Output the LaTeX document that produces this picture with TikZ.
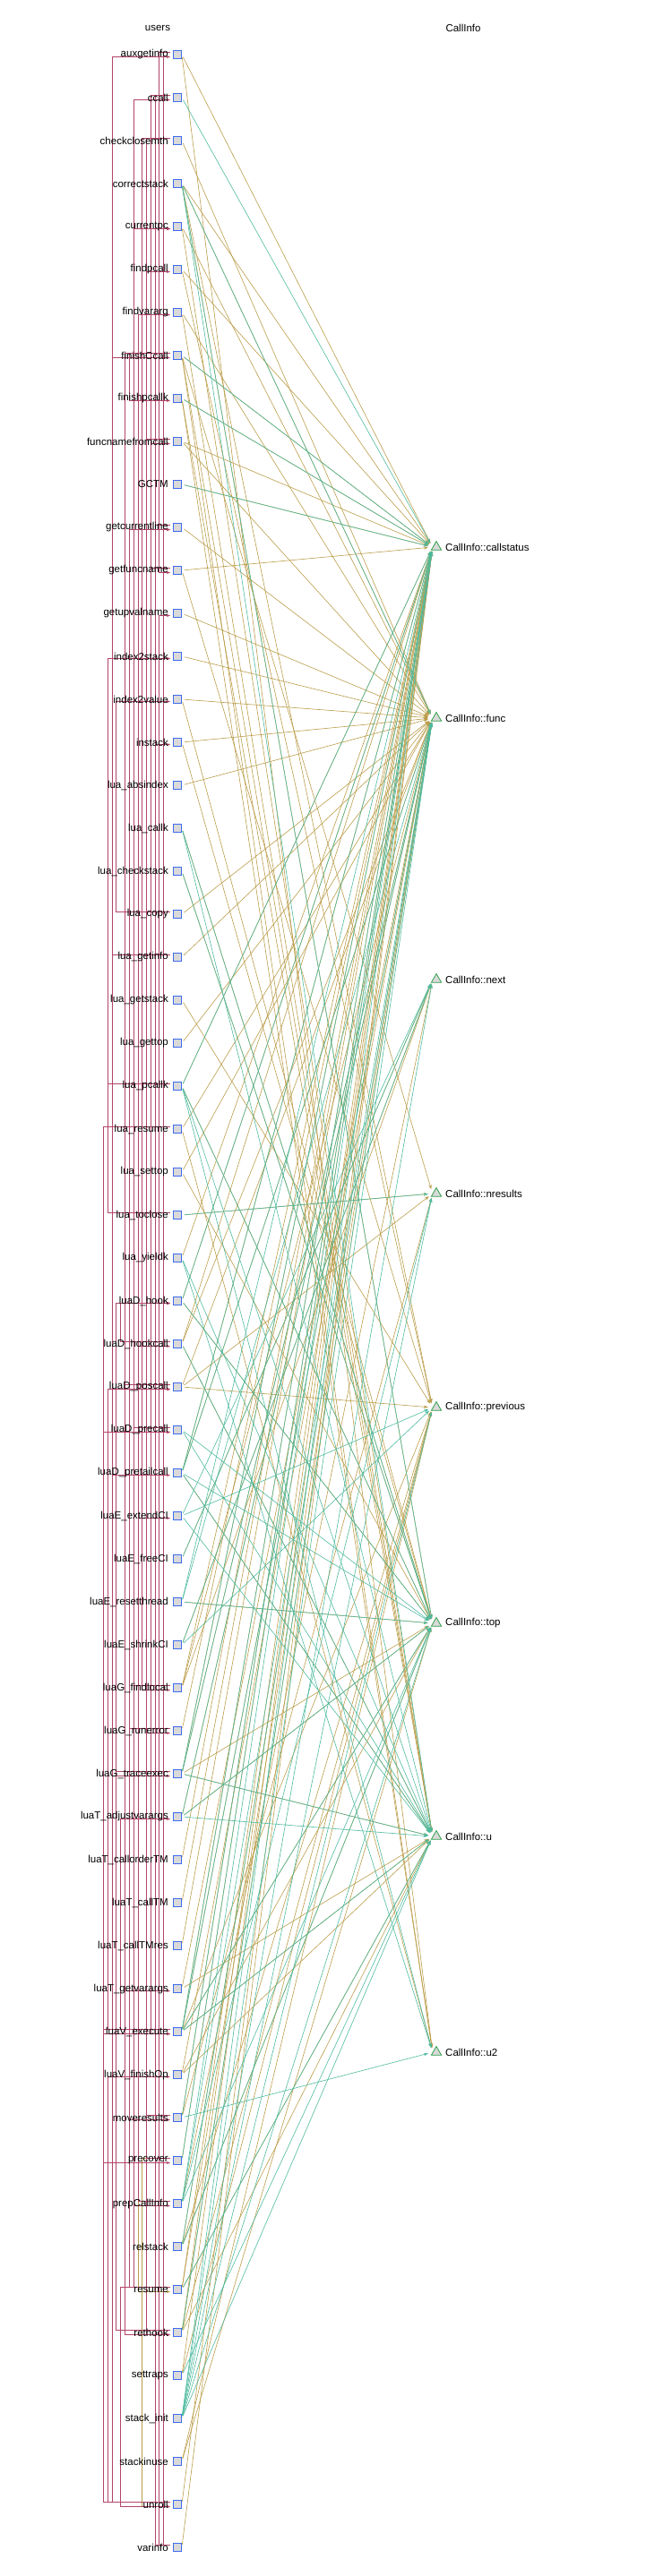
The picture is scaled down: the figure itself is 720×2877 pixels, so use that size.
\documentclass[tikz,border=0pt]{standalone}
\usepackage{fontspec}
\setmainfont{Liberation Sans}
\usetikzlibrary{arrows.meta,shapes.geometric}
\definecolor{gold}{HTML}{BA9C48}
\definecolor{tealw}{HTML}{4DBA9E}
\definecolor{callred}{HTML}{B3446A}
\definecolor{sqblue}{HTML}{3F6BF0}
\definecolor{trigreen}{HTML}{2EA04A}
\definecolor{nodefill}{HTML}{D9D9D9}
\pgfdeclarelayer{bg}
\pgfsetlayers{bg,main}
\begin{document}
\begin{tikzpicture}[x=1pt,y=-1pt, font=\fontsize{11.5}{13}\selectfont,
 usq/.style={draw=sqblue, fill=nodefill, line width=0.9pt, minimum size=9pt, inner sep=0pt},
 tri/.style={draw=trigreen, fill=nodefill, regular polygon, regular polygon sides=3, minimum size=13pt, inner sep=0pt, line width=0.8pt},
 lab/.style={anchor=east, inner sep=0pt},
 rlab/.style={anchor=west, inner sep=0pt},
 rd/.style={draw=gold, line width=0.6pt, shorten <=3pt, shorten >=5pt, -{Stealth[length=5pt,width=3.5pt]}},
 wr/.style={draw=tealw, line width=0.6pt, shorten <=3pt, shorten >=5pt, -{Stealth[length=5pt,width=3.5pt]}},
 callln/.style={draw=callred, line width=0.8pt, -{Stealth[length=4pt,width=3pt]}},
 gcallln/.style={draw=gold, line width=0.8pt, -{Stealth[length=4pt,width=3pt]}}]
\useasboundingbox (0,0) rectangle (720,2877);

\node (tu) at (176,31) {users};
\node (tc) at (517,31) {CallInfo};

\foreach \i/\t in {1/auxgetinfo,2/ccall,3/checkclosemth,4/correctstack,5/currentpc,6/findpcall,7/findvararg,8/finishCcall,9/finishpcallk,10/funcnamefromcall,11/GCTM,12/getcurrentline,13/getfuncname,14/getupvalname,15/index2stack,16/index2value,17/instack,18/lua\_absindex,19/lua\_callk,20/lua\_checkstack,21/lua\_copy,22/lua\_getinfo,23/lua\_getstack,24/lua\_gettop,25/lua\_pcallk,26/lua\_resume,27/lua\_settop,28/lua\_toclose,29/lua\_yieldk,30/luaD\_hook,31/luaD\_hookcall,32/luaD\_poscall,33/luaD\_precall,34/luaD\_pretailcall,35/luaE\_extendCI,36/luaE\_freeCI,37/luaE\_resetthread,38/luaE\_shrinkCI,39/luaG\_findlocal,40/luaG\_runerror,41/luaG\_traceexec,42/luaT\_adjustvarargs,43/luaT\_callorderTM,44/luaT\_callTM,45/luaT\_callTMres,46/luaT\_getvarargs,47/luaV\_execute,48/luaV\_finishOp,49/moveresults,50/precover,51/prepCallInfo,52/relstack,53/resume,54/rethook,55/settraps,56/stack\_init,57/stackinuse,58/unroll,59/varinfo}
{
  \node[usq] (u\i) at (198,{61+48*(\i-1)}) {};
  \node[lab] (l\i) at (188,{61+48*(\i-1)}) {\t};
}

\foreach \n/\y/\t in {cs/611/callstatus, fn/802/func, nx/1094/next, nr/1333/nresults, pv/1572/previous, tp/1813/top, uu/2051/u, uv/2292/u2}
{
  \node[tri] (\n) at (487,\y) {};
  \node[rlab] (l\n) at (497,\y) {CallInfo::\t};
}

\begin{pgfonlayer}{bg}
% reads
\foreach \s/\t in {1/cs,1/uv,3/fn,4/pv,4/tp,4/fn,4/cs,5/uu,5/fn,6/pv,6/cs,7/fn,7/uu,8/cs,8/uu,8/uv,8/nr,9/cs,9/uv,9/uu,10/cs,10/fn,11/cs,12/fn,13/cs,13/pv,14/fn,15/fn,16/fn,16/tp,17/fn,17/tp,18/fn,19/tp,20/tp,21/fn,22/fn,23/pv,24/fn,25/cs,25/tp,26/uv,26/fn,27/fn,27/tp,28/nr,29/cs,30/cs,30/tp,31/cs,31/fn,31/uu,32/nr,32/fn,32/pv,34/fn,34/cs,34/uu,36/nx,37/tp,38/nx,39/fn,39/nx,39/cs,40/cs,41/fn,41/uu,41/cs,41/tp,42/fn,42/tp,43/cs,44/cs,45/cs,46/uu,46/fn,47/fn,47/uu,47/tp,47/cs,47/pv,48/fn,48/uu,48/tp,49/cs,49/nr,50/cs,51/nx,52/pv,52/tp,52/fn,53/cs,53/uu,53/fn,54/cs,54/uu,54/fn,54/pv,55/pv,55/cs,57/pv,57/tp,58/cs,59/cs}
  \draw[rd] (u\s.east) -- (\t.west);
% writes
\foreach \s/\t in {2/cs,4/tp,4/fn,4/uu,8/cs,9/cs,11/cs,19/tp,19/uu,20/tp,25/cs,25/tp,25/uu,25/uv,28/nr,29/uv,29/uu,30/cs,30/tp,31/uu,33/uu,33/tp,34/fn,34/tp,34/uu,34/cs,35/nx,35/pv,35/uu,36/nx,37/fn,37/cs,37/tp,38/nx,38/pv,41/uu,41/cs,41/fn,42/uu,42/fn,42/tp,47/uu,47/cs,47/fn,47/tp,49/cs,49/uv,50/cs,51/fn,51/nr,51/cs,51/tp,52/tp,52/fn,53/uu,54/fn,55/uu,56/nx,56/pv,56/cs,56/fn,56/uu,56/nr,56/tp}
  \draw[wr] (u\s.east) -- (\t.west);
% pointer calls
\foreach \s/\d/\l in {26/53/155, 50/58/159}
  \draw[gcallln] ([xshift=-3pt,yshift=2.5pt]u\s.west) -- ++({\l-190.5},0) |- ([xshift=-3pt,yshift=-2.5pt]u\d.west);
% calls
\foreach \s/\d/\l in {22/1/126, 1/12/183, 1/13/178, 13/10/169, 10/5/164, 12/5/174, 2/33/174, 2/47/169, 53/2/150, 3/39/159, 3/40/164, 8/9/145, 8/32/140, 39/7/155, 39/5/150, 40/12/145, 41/30/130, 21/16/130, 28/15/121, 25/15/121, 26/50/116, 31/30/135, 32/54/140, 32/49/145, 33/51/150, 51/35/155, 47/33/116, 47/32/121, 47/34/126, 47/41/130, 47/42/135, 47/46/140, 47/31/155, 50/6/164, 53/47/140, 53/32/145, 53/58/135, 54/30/130, 58/8/126, 58/48/121, 58/47/116, 59/5/183, 59/14/178, 59/17/174, 49/54/164}
  \draw[callln] ([xshift=-3pt,yshift=2.5pt]u\s.west) -- ++({\l-190.5},0) |- ([xshift=-3pt,yshift=-2.5pt]u\d.west);
\end{pgfonlayer}
\end{tikzpicture}
\end{document}
